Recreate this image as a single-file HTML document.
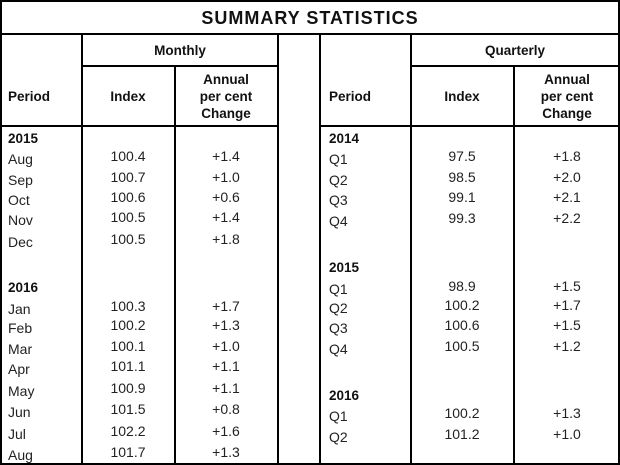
<!DOCTYPE html>
<html><head><meta charset="utf-8"><style>
html,body{margin:0;padding:0;background:#fff;}
svg{display:block;font-family:"Liberation Sans",Arial,sans-serif;}
.t{font-size:14px;fill:#222;}
.b{font-size:13.5px;font-weight:bold;fill:#111;}
</style></head><body>
<svg width="620" height="465" viewBox="0 0 620 465">
<g stroke="#000" stroke-width="2" fill="none">
<rect x="1" y="1" width="618" height="463"/>
<line x1="1" y1="34" x2="619" y2="34"/>
<line x1="82" y1="34" x2="82" y2="464"/>
<line x1="278" y1="34" x2="278" y2="464"/>
<line x1="320" y1="34" x2="320" y2="464"/>
<line x1="411" y1="34" x2="411" y2="464"/>
<line x1="514" y1="66" x2="514" y2="464"/>
<line x1="175" y1="66" x2="175" y2="464"/>
<line x1="82" y1="66" x2="278" y2="66"/>
<line x1="411" y1="66" x2="619" y2="66"/>
<line x1="1" y1="126" x2="278" y2="126"/>
<line x1="320" y1="126" x2="619" y2="126"/>
</g>
<text x="310" y="24" text-anchor="middle" style="font-size:18px;font-weight:bold;letter-spacing:1px;fill:#111">SUMMARY STATISTICS</text>
<g text-anchor="middle">
<text class="b" x="180" y="55">Monthly</text>
<text class="b" x="515" y="55">Quarterly</text>
<text class="b" x="128" y="101">Index</text>
<text class="b" x="226" y="84">Annual</text>
<text class="b" x="226" y="101">per cent</text>
<text class="b" x="226" y="118">Change</text>
<text class="b" x="462" y="101">Index</text>
<text class="b" x="567" y="84">Annual</text>
<text class="b" x="567" y="101">per cent</text>
<text class="b" x="567" y="118">Change</text>
</g>
<text class="b" x="8" y="101">Period</text>
<text class="b" x="329" y="101">Period</text>
<text class="b" x="8" y="143">2015</text>
<text class="b" x="8" y="292">2016</text>
<text class="b" x="329" y="143">2014</text>
<text class="b" x="329" y="272">2015</text>
<text class="b" x="329" y="400">2016</text>
<g class="t">
<text x="8" y="164">Aug</text><text x="8" y="185">Sep</text><text x="8" y="205">Oct</text><text x="8" y="225">Nov</text><text x="8" y="247">Dec</text>
<text x="8" y="314">Jan</text><text x="8" y="333">Feb</text><text x="8" y="354">Mar</text><text x="8" y="374">Apr</text><text x="8" y="396">May</text><text x="8" y="417">Jun</text><text x="8" y="439">Jul</text><text x="8" y="460">Aug</text>
<text x="329" y="164">Q1</text><text x="329" y="185">Q2</text><text x="329" y="205">Q3</text><text x="329" y="226">Q4</text>
<text x="329" y="294">Q1</text><text x="329" y="313">Q2</text><text x="329" y="333">Q3</text><text x="329" y="354">Q4</text>
<text x="329" y="421">Q1</text><text x="329" y="442">Q2</text>
</g>
<g class="t" text-anchor="middle">
<text x="128" y="161">100.4</text><text x="226" y="161">+1.4</text>
<text x="128" y="182">100.7</text><text x="226" y="182">+1.0</text>
<text x="128" y="202">100.6</text><text x="226" y="202">+0.6</text>
<text x="128" y="222">100.5</text><text x="226" y="222">+1.4</text>
<text x="128" y="244">100.5</text><text x="226" y="244">+1.8</text>
<text x="128" y="311">100.3</text><text x="226" y="311">+1.7</text>
<text x="128" y="330">100.2</text><text x="226" y="330">+1.3</text>
<text x="128" y="351">100.1</text><text x="226" y="351">+1.0</text>
<text x="128" y="371">101.1</text><text x="226" y="371">+1.1</text>
<text x="128" y="393">100.9</text><text x="226" y="393">+1.1</text>
<text x="128" y="414">101.5</text><text x="226" y="414">+0.8</text>
<text x="128" y="436">102.2</text><text x="226" y="436">+1.6</text>
<text x="128" y="457">101.7</text><text x="226" y="457">+1.3</text>
<text x="462" y="161">97.5</text><text x="567" y="161">+1.8</text>
<text x="462" y="182">98.5</text><text x="567" y="182">+2.0</text>
<text x="462" y="202">99.1</text><text x="567" y="202">+2.1</text>
<text x="462" y="223">99.3</text><text x="567" y="223">+2.2</text>
<text x="462" y="291">98.9</text><text x="567" y="291">+1.5</text>
<text x="462" y="310">100.2</text><text x="567" y="310">+1.7</text>
<text x="462" y="330">100.6</text><text x="567" y="330">+1.5</text>
<text x="462" y="351">100.5</text><text x="567" y="351">+1.2</text>
<text x="462" y="418">100.2</text><text x="567" y="418">+1.3</text>
<text x="462" y="439">101.2</text><text x="567" y="439">+1.0</text>
</g>
</svg>
</body></html>
